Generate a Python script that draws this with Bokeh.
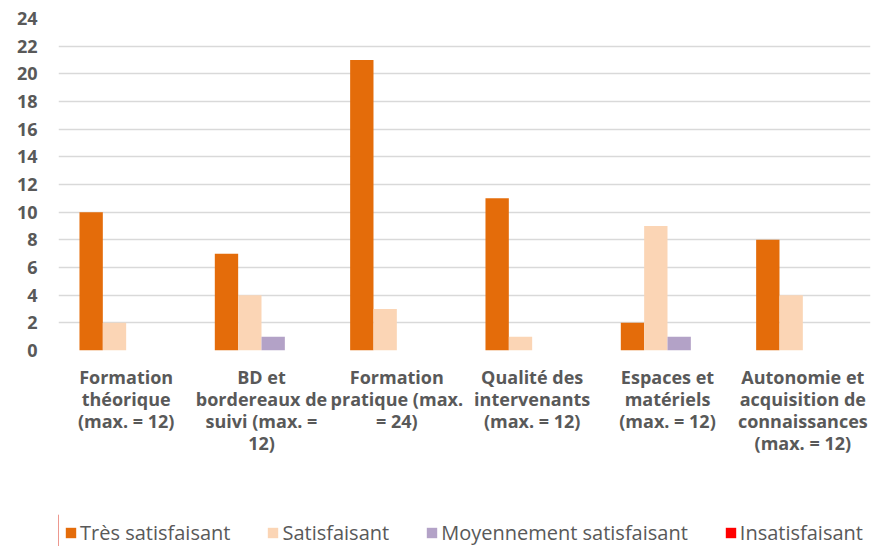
from bokeh.plotting import figure
from bokeh.layouts import column
from bokeh.models import FactorRange, Legend, LegendItem, Range1d
from bokeh.transform import dodge
from bokeh.embed import file_html
from bokeh.resources import INLINE

categories = [
    "Formation\nthéorique\n(max. = 12)",
    "BD et\nbordereaux de\nsuivi (max. =\n12)",
    "Formation\npratique (max.\n= 24)",
    "Qualité des\nintervenants\n(max. = 12)",
    "Espaces et\nmatériels\n(max. = 12)",
    "Autonomie et\nacquisition de\nconnaissances\n(max. = 12)",
]
series_names = ["Très satisfaisant", "Satisfaisant", "Moyennement satisfaisant", "Insatisfaisant"]
tres_satisfaisant = [10, 7, 21, 11, 2, 8]
satisfaisant = [2, 4, 3, 1, 9, 4]
moyennement = [0, 1, 0, 0, 1, 0]
insatisfaisant = [0, 0, 0, 0, 0, 0]
colors = ["#E46C0A", "#FBD5B5", "#B3A2C7", "#FF0000"]
y_ticks = list(range(0, 25, 2))

data = dict(cat=categories, s0=tres_satisfaisant, s1=satisfaisant, s2=moyennement, s3=insatisfaisant)

# ---- main chart ----
p = figure(x_range=FactorRange(factors=categories), y_range=(0, 24),
           width=887, height=514, output_backend="svg", toolbar_location=None,
           min_border_left=58, min_border_right=17, min_border_top=18, min_border_bottom=164)
p.outline_line_color = None

bw = 0.1725
offsets = [-1.5 * bw, -0.5 * bw, 0.5 * bw, 1.5 * bw]
for i, key in enumerate(["s0", "s1", "s2", "s3"]):
    p.vbar(x=dodge("cat", offsets[i], range=p.x_range), top=key, width=bw,
           source=data, fill_color=colors[i], line_color=None)

p.xgrid.grid_line_color = None
p.ygrid.grid_line_color = "#D9D9D9"
p.ygrid.grid_line_width = 1.5
p.yaxis.ticker = y_ticks

for ax in (p.xaxis[0], p.yaxis[0]):
    ax.axis_line_color = None
    ax.major_tick_line_color = None
    ax.minor_tick_line_color = None
    ax.major_tick_out = 0
    ax.major_tick_in = 0
    ax.minor_tick_out = 0
    ax.major_label_text_font = "Open Sans"
    ax.major_label_text_font_style = "bold"
    ax.major_label_text_color = "#595959"

p.yaxis.major_label_text_font_size = "18px"
p.yaxis.major_label_standoff = 21
p.xaxis.major_label_text_font_size = "18px"
p.xaxis.major_label_standoff = 14
p.xaxis.major_label_text_line_height = 0.92

# ---- legend strip ----
lg = figure(width=887, height=32, output_backend="svg", toolbar_location=None,
            x_axis_type=None, y_axis_type=None, x_range=Range1d(0, 1), y_range=Range1d(0, 1),
            min_border=0)
lg.outline_line_color = None
lg.xgrid.visible = False
lg.ygrid.visible = False
items = []
for name, c in zip(series_names, colors):
    # swatch renderer kept outside the visible range; only its legend entry shows
    r = lg.vbar(x=[-5], top=[1], width=0.1, fill_color=c, line_color=None)
    items.append(LegendItem(label=name, renderers=[r]))
legend = Legend(items=items, orientation="horizontal", location=(6, 0),
                glyph_width=13, glyph_height=13, label_text_font="Open Sans",
                label_text_font_size="20px", label_text_color="#595959",
                spacing=36, label_standoff=3, padding=0, margin=0,
                background_fill_alpha=0, border_line_color=None)
lg.add_layout(legend, "center")

layout = column(p, lg, spacing=0)
open("out.html", "w").write(file_html(layout, INLINE))
